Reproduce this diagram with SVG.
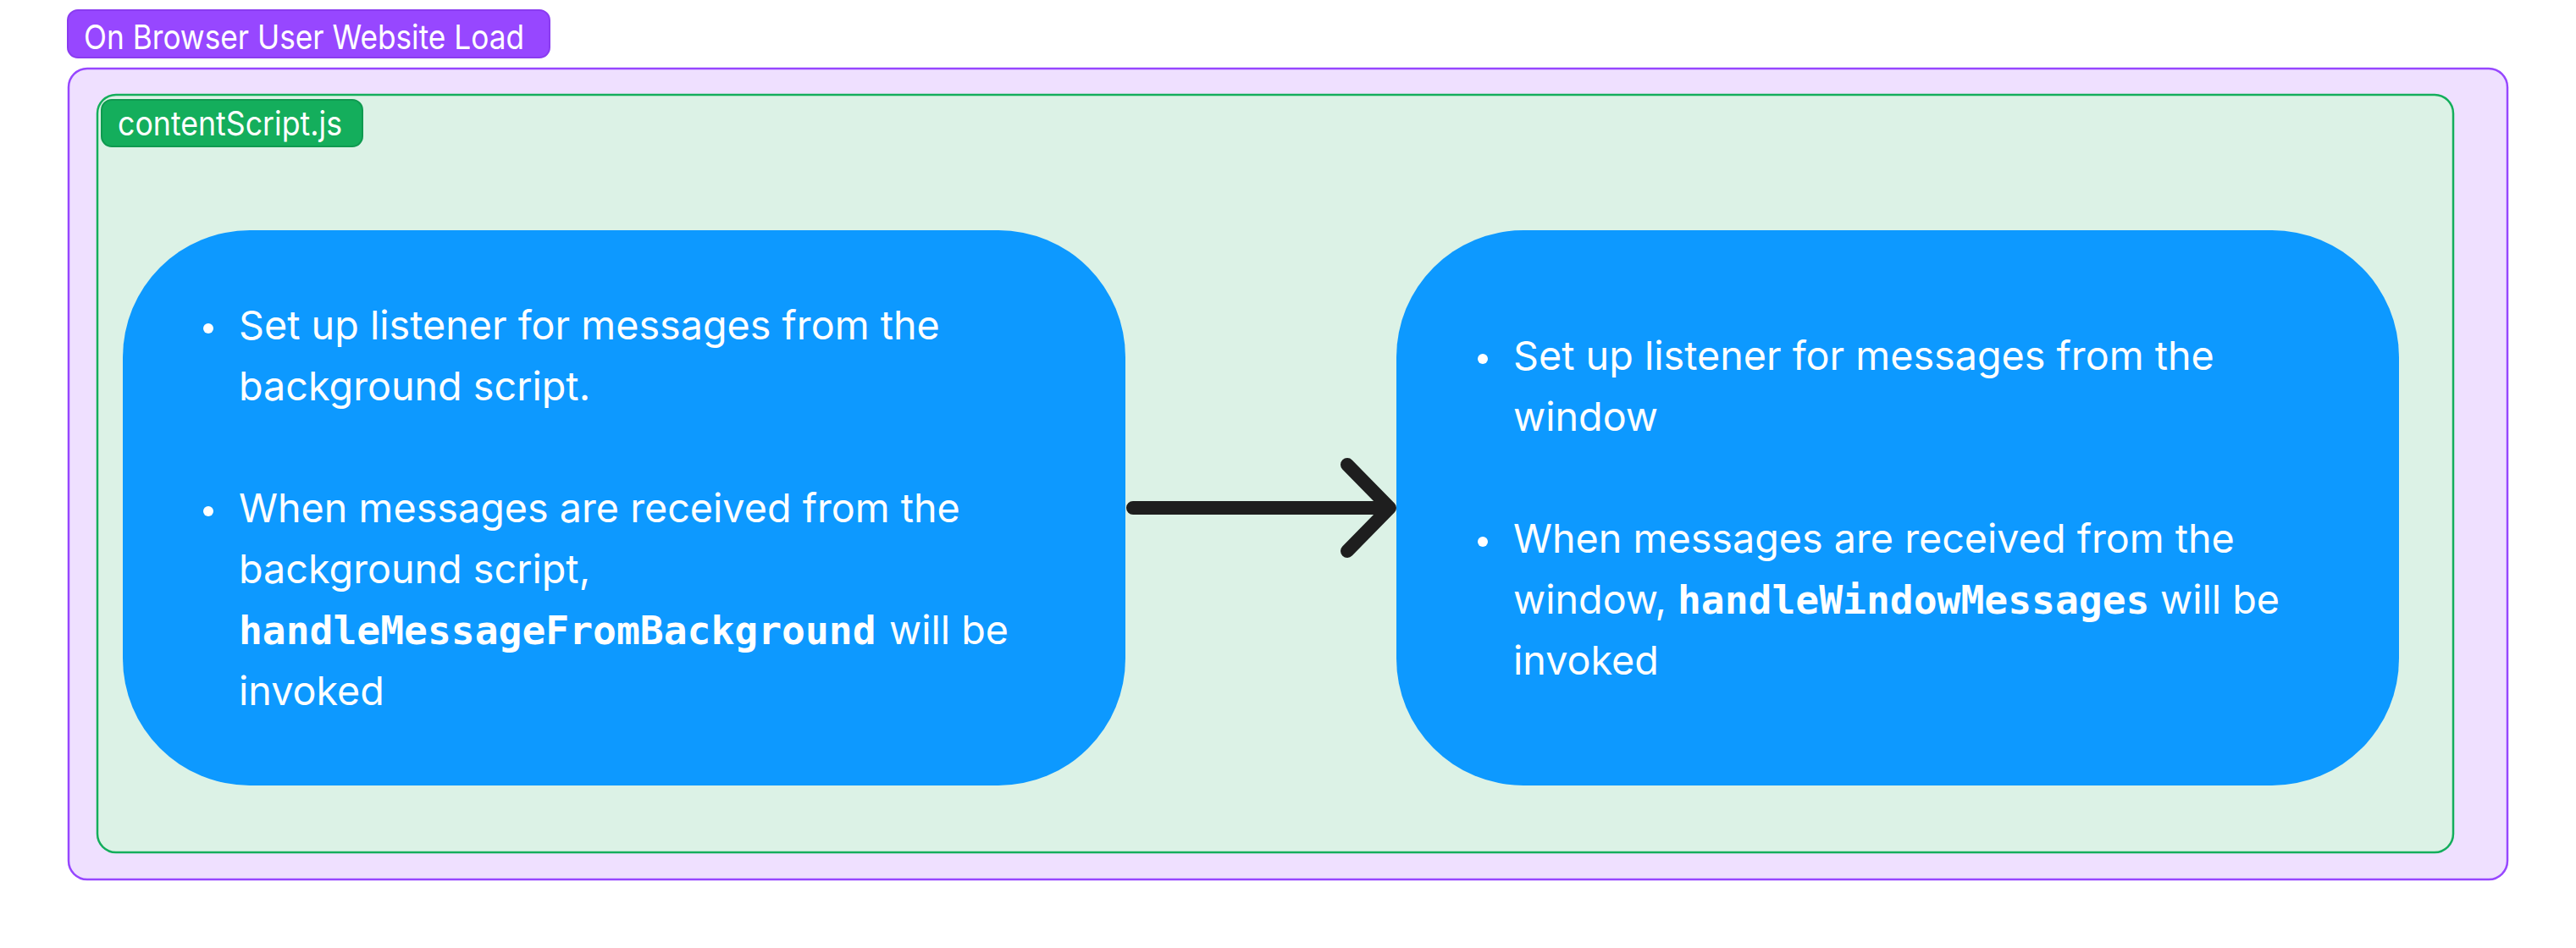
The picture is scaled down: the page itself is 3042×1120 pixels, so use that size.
<svg xmlns="http://www.w3.org/2000/svg" width="3042" height="1120" viewBox="0 0 3042 1120">
  <style>
    .body { font-family: Inter, "Liberation Sans", sans-serif; font-size: 46.7px; fill: #ffffff; }
    .mono { font-family: "DejaVu Sans Mono", "Liberation Mono", monospace; font-weight: bold; font-size: 46.3px; }
    .lbl { font-family: Inter, "Liberation Sans", sans-serif; fill: #ffffff; }
    .node { fill: #0d99ff; }
    .bullet { fill: #ffffff; }
    .conn { fill: none; stroke: #1e1e1e; stroke-width: 16; stroke-linecap: round; stroke-linejoin: round; }
  </style>
  <rect width="3042" height="1120" fill="#ffffff"/>

  <g id="section-browser-load">
    <rect x="81" y="81" width="2880" height="958" rx="22" fill="#efe0ff" stroke="#9747ff" stroke-width="2.5"/>
    <rect x="80" y="12" width="569" height="56" rx="12" fill="#9747ff" stroke="#8a3cf0" stroke-width="2"/>
    <text class="lbl" x="99" y="58" font-size="40" textLength="520" lengthAdjust="spacingAndGlyphs">On Browser User Website Load</text>
  </g>

  <g id="section-content-script">
    <rect x="115" y="112" width="2782" height="895" rx="22" fill="#dcf2e6" stroke="#14ae5c" stroke-width="2.5"/>
    <rect x="120" y="118" width="308" height="55" rx="12" fill="#14ae5c" stroke="#0f9a50" stroke-width="2"/>
    <text class="lbl" x="139" y="160" font-size="39" textLength="265" lengthAdjust="spacingAndGlyphs">contentScript.js</text>
  </g>

  <g id="connectors">
    <path class="conn" d="M1338 600 L1640 600 M1591 549 L1641 600 L1591 651"/>
  </g>

  <g id="node-background-listener">
    <rect class="node" x="145" y="272" width="1184" height="656" rx="150"/>
    <circle class="bullet" cx="246" cy="388" r="6"/>
    <circle class="bullet" cx="246" cy="604" r="6"/>
    <text class="body" x="282" y="401">Set up listener for messages from the</text>
    <text class="body" x="282" y="473">background script.</text>
    <text class="body" x="282" y="617">When messages are received from the</text>
    <text class="body" x="282" y="689">background script,</text>
    <text class="body" x="282" y="761"><tspan class="mono">handleMessageFromBackground</tspan><tspan x="1050">will be</tspan></text>
    <text class="body" x="282" y="833">invoked</text>
  </g>

  <g id="node-window-listener">
    <rect class="node" x="1649" y="272" width="1184" height="656" rx="150"/>
    <circle class="bullet" cx="1751" cy="424" r="6"/>
    <circle class="bullet" cx="1751" cy="640" r="6"/>
    <text class="body" x="1787" y="437">Set up listener for messages from the</text>
    <text class="body" x="1787" y="509">window</text>
    <text class="body" x="1787" y="653">When messages are received from the</text>
    <text class="body" x="1787" y="725">window, <tspan class="mono" x="1981">handleWindowMessages</tspan><tspan x="2551">will be</tspan></text>
    <text class="body" x="1787" y="797">invoked</text>
  </g>
</svg>
